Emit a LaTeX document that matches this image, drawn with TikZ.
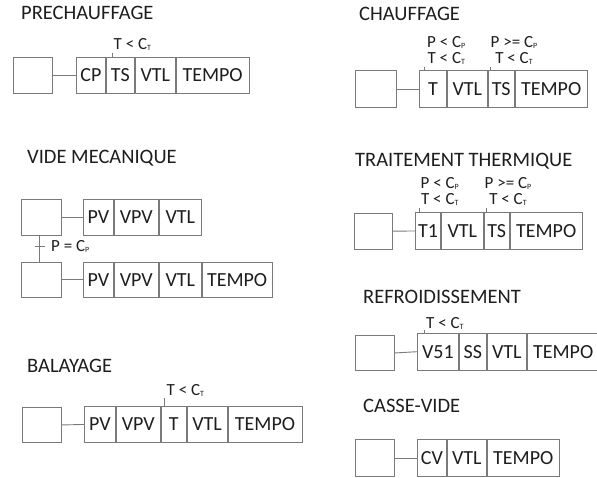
\documentclass[tikz,border=0pt]{standalone}
\usepackage{fontspec}
\setmainfont{Carlito}
\newcommand{\myT}{\raisebox{-0.15ex}{\fontsize{8}{8}\selectfont T}}
\newcommand{\myP}{\raisebox{-0.15ex}{\fontsize{8}{8}\selectfont P}}
\definecolor{linegray}{HTML}{7A7A7A}
\definecolor{txt}{HTML}{1E1E1E}
\tikzset{
  title/.style={anchor=base west, inner sep=0, text=txt, font=\fontsize{20.5}{22}\selectfont},
  stepbox/.style={draw=linegray, line width=0.9pt, inner sep=0, anchor=north west},
  cell/.style={draw=linegray, line width=0.9pt, inner sep=0, anchor=north west, text=txt,
    font=\fontsize{20}{20}\selectfont, text height=12.9pt, text depth=0pt},
  link/.style={draw=linegray, line width=0.9pt},
  cond/.style={anchor=south west, inner sep=0, text=txt, align=center,
    font=\fontsize{17}{15.5}\selectfont},
}
\begin{document}
\begin{tikzpicture}[x=1pt,y=-1pt]
\path[use as bounding box, fill=white] (0,0) rectangle (597,477);

% ---------- PRECHAUFFAGE
\node[title] (t1) at (21,19.5) {PRECHAUFFAGE};
\node[stepbox, minimum width=39pt, minimum height=36pt] (s1) at (13,57) {};
\node[cell, minimum width=29pt, minimum height=36pt] (a1) at (76,57) {CP};
\node[cell, minimum width=28pt, minimum height=36pt] (a2) at (a1.north east) {TS};
\node[cell, minimum width=40pt, minimum height=36pt] (a3) at (a2.north east) {VTL};
\node[cell, minimum width=73pt, minimum height=36pt] (a4) at (a3.north east) {TEMPO};
\draw[link] (s1.east) -- (a1.west);
\coordinate (k1) at (112.7,52.5);
\draw[link] (k1) -- (k1 |- a2.north);
\node[cond] (c1) at (113.5,50.5) {T < C\myT};

% ---------- CHAUFFAGE
\node[title] (t2) at (359,20) {CHAUFFAGE};
\node[stepbox, minimum width=41pt, minimum height=37pt] (s2) at (355,70) {};
\node[cell, minimum width=27pt, minimum height=37pt] (b1) at (419,70) {T};
\node[cell, minimum width=40pt, minimum height=37pt] (b2) at (b1.north east) {VTL};
\node[cell, minimum width=26pt, minimum height=37pt] (b3) at (b2.north east) {TS};
\node[cell, minimum width=72pt, minimum height=37pt] (b4) at (b3.north east) {TEMPO};
\draw[link] (s2.east) -- (b1.west);
\coordinate (k2) at (424,66.5);
\draw[link] (k2) -- (k2 |- b1.north);
\node[cond] (c2) at (427,64.5) {P < C\myP\\T < C\myT};
\coordinate (k3) at (490,66.5);
\draw[link] (k3) -- (k3 |- b3.north);
\node[cond] (c3) at (490.5,64.5) {P >= C\myP\\T < C\myT};

% ---------- VIDE MECANIQUE
\node[title] (t3) at (27,163) {VIDE MECANIQUE};
\node[stepbox, minimum width=40pt, minimum height=36pt] (s3) at (21,199) {};
\node[stepbox, minimum width=40pt, minimum height=35.5pt] (s4) at (21,261.5) {};
\node[cell, minimum width=30pt, minimum height=36pt] (d1) at (83,199) {PV};
\node[cell, minimum width=44pt, minimum height=36pt] (d2) at (d1.north east) {VPV};
\node[cell, minimum width=42pt, minimum height=36pt] (d3) at (d2.north east) {VTL};
\draw[link] (s3.east) -- (d1.west);
\node[cell, minimum width=30pt, minimum height=35.5pt] (e1) at (83,261.5) {PV};
\node[cell, minimum width=44pt, minimum height=35.5pt] (e2) at (e1.north east) {VPV};
\node[cell, minimum width=42pt, minimum height=35.5pt] (e3) at (e2.north east) {VTL};
\node[cell, minimum width=70pt, minimum height=35.5pt] (e4) at (e3.north east) {TEMPO};
\draw[link] (s4.east) -- (e1.west);
\draw[link] ([xshift=-2pt]s3.south) -- ([xshift=-2pt]s4.north);
\coordinate (k4) at (34.5,246);
\draw[link] (k4) -- ++(10,0);
\node[cond, anchor=base west] (c4) at (51,251.5) {P = C\myP};

% ---------- TRAITEMENT THERMIQUE
\node[title] (t4) at (355,166) {TRAITEMENT THERMIQUE};
\node[stepbox, minimum width=38pt, minimum height=36.5pt] (s5) at (354,212.5) {};
\node[cell, minimum width=25pt, minimum height=37pt] (f1) at (415,212) {T1};
\node[cell, minimum width=42pt, minimum height=37pt] (f2) at (f1.north east) {VTL};
\node[cell, minimum width=25pt, minimum height=37pt] (f3) at (f2.north east) {TS};
\node[cell, minimum width=72pt, minimum height=37pt] (f4) at (f3.north east) {TEMPO};
\draw[link] (s5.east) -- (f1.west);
\coordinate (k5) at (419.5,208);
\draw[link] (k5) -- (k5 |- f1.north);
\node[cond] (c5) at (420.5,205.5) {P < C\myP\\T < C\myT};
\coordinate (k6) at (486,208);
\draw[link] (k6) -- (k6 |- f3.north);
\node[cond] (c6) at (484.5,205.5) {P >= C\myP\\T < C\myT};

% ---------- REFROIDISSEMENT
\node[title] (t5) at (363,303.5) {REFROIDISSEMENT};
\node[stepbox, minimum width=39pt, minimum height=35pt] (s6) at (355,335) {};
\node[cell, minimum width=41pt, minimum height=36.5pt] (g1) at (417,333) {V51};
\node[cell, minimum width=27pt, minimum height=36.5pt] (g2) at (g1.north east) {SS};
\node[cell, minimum width=39pt, minimum height=36.5pt] (g3) at (g2.north east) {VTL};
\node[cell, minimum width=72pt, minimum height=36.5pt] (g4) at (g3.north east) {TEMPO};
\draw[link] (s6.east) -- (g1.west);
\coordinate (k7) at (424,330);
\draw[link] (k7) -- (k7 |- g1.north);
\node[cond] (c7) at (426,330) {T < C\myT};

% ---------- BALAYAGE
\node[title] (t6) at (27,372) {BALAYAGE};
\node[stepbox, minimum width=39pt, minimum height=35pt] (s7) at (22,407) {};
\node[cell, minimum width=31pt, minimum height=36pt] (h1) at (84,406) {PV};
\node[cell, minimum width=44pt, minimum height=36pt] (h2) at (h1.north east) {VPV};
\node[cell, minimum width=25pt, minimum height=36pt] (h3) at (h2.north east) {T};
\node[cell, minimum width=40pt, minimum height=36pt] (h4) at (h3.north east) {VTL};
\node[cell, minimum width=74pt, minimum height=36pt] (h5) at (h4.north east) {TEMPO};
\draw[link] (s7.east) -- (h1.west);
\coordinate (k8) at (164,398);
\draw[link] (k8) -- (k8 |- h3.north);
\node[cond] (c8) at (166.5,396.5) {T < C\myT};

% ---------- CASSE-VIDE
\node[title] (t7) at (363,412) {CASSE-VIDE};
\node[stepbox, minimum width=39pt, minimum height=36.5pt] (s8) at (355,439.3) {};
\node[cell, minimum width=29pt, minimum height=36.5pt] (m1) at (417,439.3) {CV};
\node[cell, minimum width=39pt, minimum height=36.5pt] (m2) at (m1.north east) {VTL};
\node[cell, minimum width=72pt, minimum height=36.5pt] (m3) at (m2.north east) {TEMPO};
\draw[link] (s8.east) -- (m1.west);
\end{tikzpicture}
\end{document}
